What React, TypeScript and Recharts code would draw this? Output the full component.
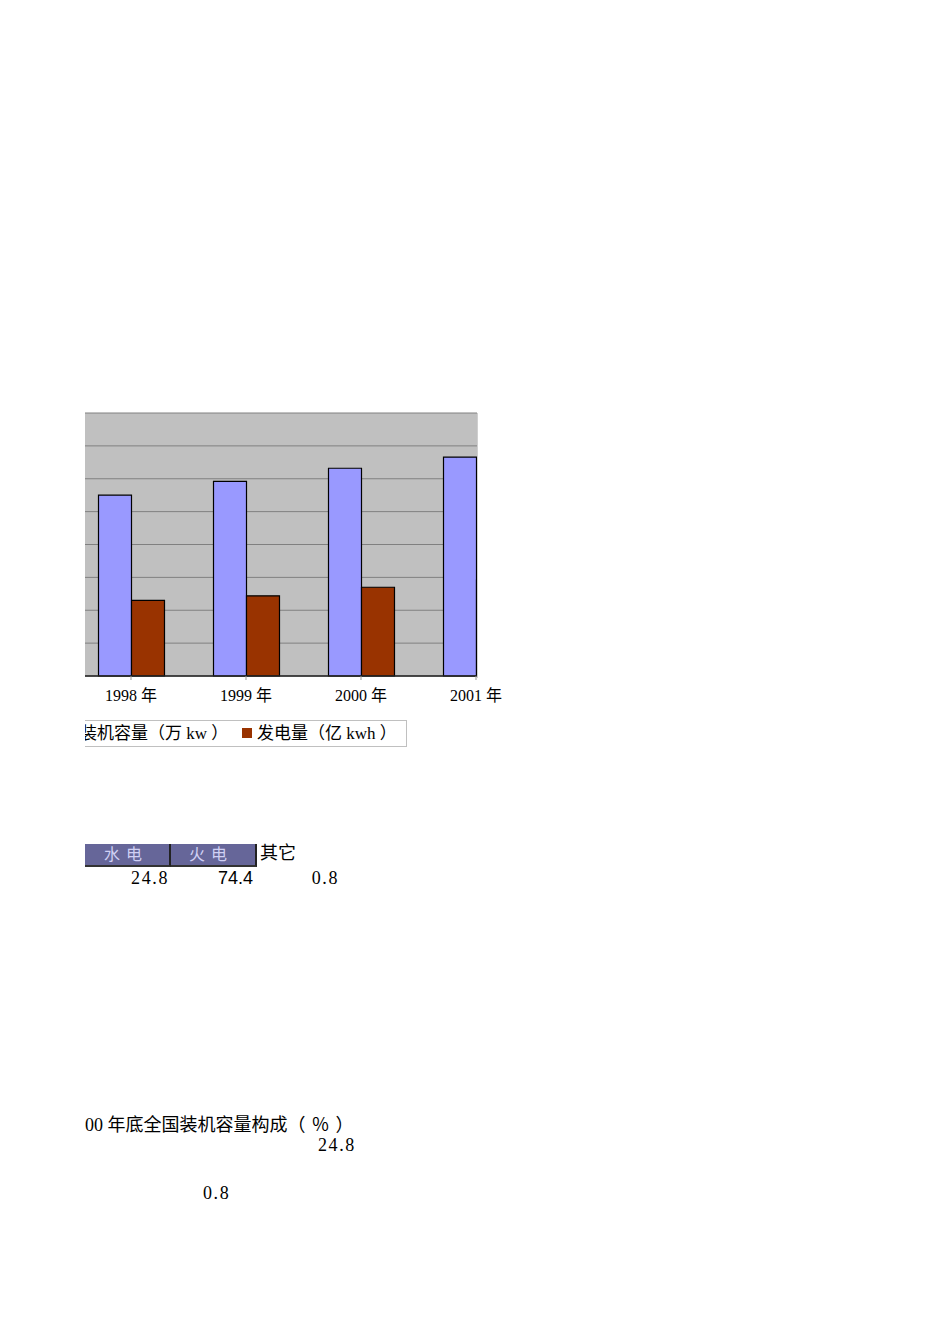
import React from 'react';
import { BarChart, Bar, XAxis, YAxis, CartesianGrid } from 'recharts';

const years = ['1998 年', '1999 年', '2000 年', '2001 年'];
const capacity = [27500, 29600, 31600, 33300];
const generation = [11500, 12200, 13500, 14600];
const yTicks = [0, 5000, 10000, 15000, 20000, 25000, 30000, 35000, 40000];
const seriesNames = ['装机容量（万 kw ）', '发电量（亿 kwh ）'];
const seriesColors = ['#9999FF', '#993300'];
const tableHeads = ['水 电', '火 电', '其它'];
const tableValues = ['24.8', '74.4', '0.8'];
const pieTitleMain = '2000 年底全国装机容量构成';
const pieTitleUnit = '（％）';
const pieLabels = ['24.8', '0.8'];

const data = years.map((y, i) => ({ year: y, capacity: capacity[i], generation: generation[i] }));

const SERIF = '"Liberation Serif", "Noto Sans CJK SC", serif';
const SANS = '"Liberation Sans", "Noto Sans CJK SC", sans-serif';

const abs = (left: number, top: number, extra: React.CSSProperties = {}): React.CSSProperties => ({
  position: 'absolute',
  left,
  top,
  whiteSpace: 'nowrap',
  ...extra,
});

export default function App() {
  return (
    <div style={{ position: 'absolute', left: 85, top: 0, width: 865, height: 1344, overflow: 'hidden', background: '#fff' }}>
      <div style={{ position: 'absolute', left: -85, top: 0, width: 950, height: 1344 }}>
        <div style={{ position: 'absolute', left: 0, top: 400 }}>
          <BarChart
            width={560}
            height={306}
            data={data}
            margin={{ top: 13, right: 83, bottom: 0, left: 85 }}
            barGap={0}
            barSize={33}
          >
            <CartesianGrid
              vertical={false}
              horizontal={true}
              stroke="#808080"
              strokeWidth={1}
              fill="#C0C0C0"
              fillOpacity={1}
            />
            <XAxis
              dataKey="year"
              height={30}
              padding={{ left: -11.5, right: -56.5 }}
              axisLine={{ stroke: '#222', strokeWidth: 1.5 }}
              tickLine={{ stroke: '#999' }}
              tickSize={4}
              tickMargin={10}
              interval={0}
              tick={{ fill: '#000', fontSize: 16, fontFamily: SERIF }}
            />
            <YAxis
              width={0}
              domain={[0, 40000]}
              ticks={yTicks}
              interval={0}
              tick={{ fill: 'transparent', fontSize: 1 }}
              axisLine={false}
              tickLine={false}
            />
            <Bar dataKey="capacity" name={seriesNames[0]} fill={seriesColors[0]} stroke="#000" strokeWidth={1.2} isAnimationActive={false} />
            <Bar dataKey="generation" name={seriesNames[1]} fill={seriesColors[1]} stroke="#000" strokeWidth={1.2} isAnimationActive={false} />
          </BarChart>
        </div>
        {/* plot area ends at the right edge of the picture's crop */}
        <div style={abs(477, 413, { width: 60, height: 265, background: '#fff', borderLeft: '1px solid #cfcfcf', boxSizing: 'border-box' })} />

        {/* legend */}
        <div style={abs(55, 720, { width: 352, height: 27, border: '1px solid #c0c0c0', boxSizing: 'border-box' })} />
        <div style={abs(64, 728, { width: 10, height: 10, background: seriesColors[0] })} />
        <div style={abs(80, 725, { fontFamily: SERIF, fontSize: 17, lineHeight: '17px', color: '#000' })}>{seriesNames[0]}</div>
        <div style={abs(242, 728, { width: 10, height: 10, background: seriesColors[1] })} />
        <div style={abs(257, 725, { fontFamily: SERIF, fontSize: 17, lineHeight: '17px', color: '#000' })}>{seriesNames[1]}</div>

        {/* table */}
        <div style={abs(40, 844, { width: 131, height: 23, background: '#666699', borderRight: '2px solid #222', borderBottom: '2px solid #333', boxSizing: 'border-box' })} />
        <div style={abs(171, 844, { width: 86, height: 23, background: '#666699', borderRight: '2px solid #222', borderBottom: '2px solid #333', boxSizing: 'border-box' })} />
        <div style={abs(104, 847, { fontFamily: SERIF, fontSize: 16, lineHeight: '16px', color: '#d0d0f4', letterSpacing: 1 })}>{tableHeads[0]}</div>
        <div style={abs(189, 847, { fontFamily: SERIF, fontSize: 16, lineHeight: '16px', color: '#d0d0f4', letterSpacing: 1 })}>{tableHeads[1]}</div>
        <div style={abs(260, 844, { fontFamily: SERIF, fontSize: 18, lineHeight: '18px', color: '#000' })}>{tableHeads[2]}</div>

        <div style={abs(87, 869, { width: 82, textAlign: 'right', fontFamily: SERIF, fontSize: 18, lineHeight: '18px', letterSpacing: 1.6 })}>{tableValues[0]}</div>
        <div style={abs(173, 869, { width: 80, textAlign: 'right', fontFamily: SANS, fontSize: 18, lineHeight: '18px' })}>{tableValues[1]}</div>
        <div style={abs(258, 869, { width: 81, textAlign: 'right', fontFamily: SERIF, fontSize: 18, lineHeight: '18px', letterSpacing: 1.6 })}>{tableValues[2]}</div>

        {/* pie caption and labels */}
        <div style={abs(67, 1116, { fontFamily: SERIF, fontSize: 18, lineHeight: '18px', color: '#000' })}>
          {pieTitleMain}
          <span style={{ letterSpacing: 6 }}>{pieTitleUnit}</span>
        </div>
        <div style={abs(318, 1136, { fontFamily: SERIF, fontSize: 18, lineHeight: '18px', letterSpacing: 1.6 })}>{pieLabels[0]}</div>
        <div style={abs(203, 1184, { fontFamily: SERIF, fontSize: 18, lineHeight: '18px', letterSpacing: 1.6 })}>{pieLabels[1]}</div>
      </div>
    </div>
  );
}
